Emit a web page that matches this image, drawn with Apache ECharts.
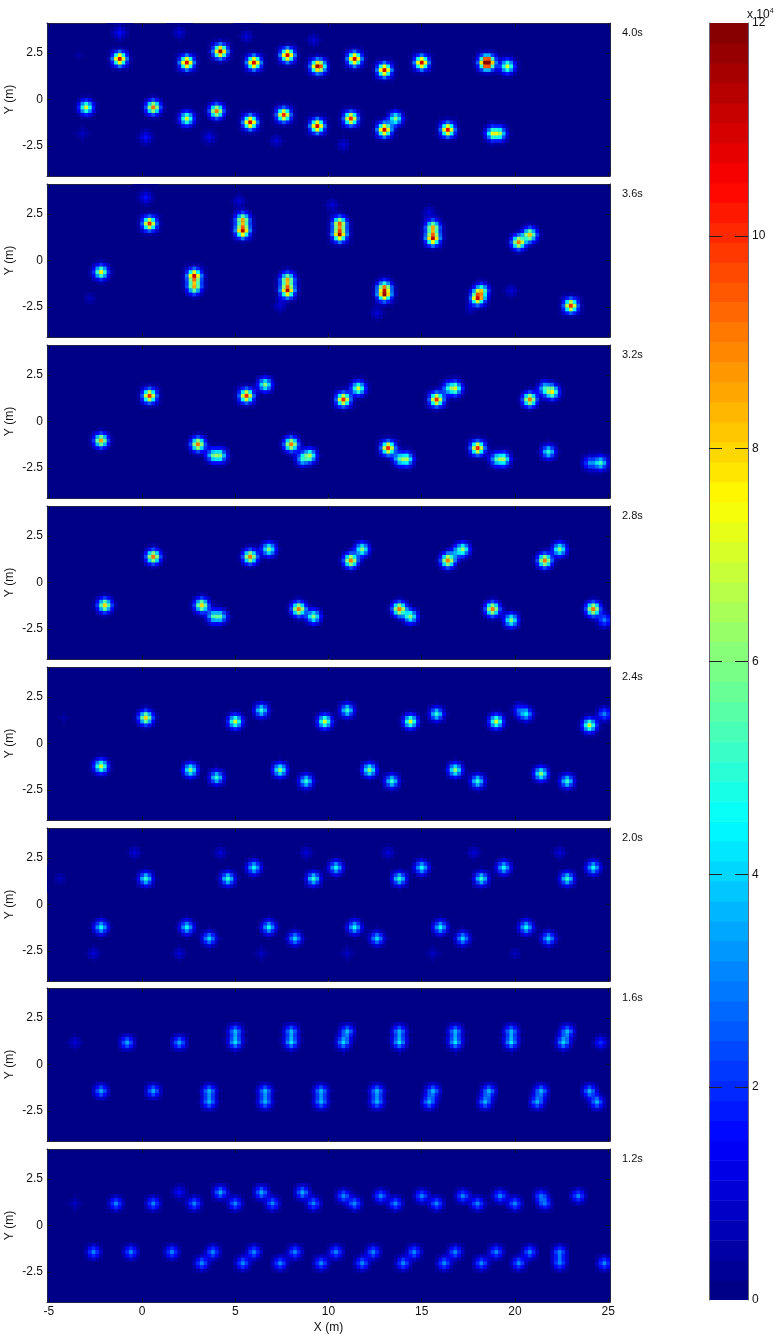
<!DOCTYPE html>
<html><head><meta charset="utf-8">
<script src="https://cdn.jsdelivr.net/npm/echarts@6/dist/echarts.min.js"></script>
<style>html,body{margin:0;padding:0;background:#fff}#c{width:780px;height:1340px}</style>
</head><body><div id="c"></div>
<script>
// Peaks: [x (m), y (m), peak amplitude (x 10^4)]
const t40 = [[-1.2,2.2,11],[2.4,2.0,11],[4.2,2.6,11.5],[6.0,2.0,11],[7.8,2.4,11],[9.4,1.8,9.5],[9.6,1.8,3],[11.4,2.2,11],[13.0,1.6,11],[15.0,2.0,11],[18.4,2.0,8],[18.6,2.0,9],[19.6,1.8,7],
 [-3.0,-0.4,7],[0.6,-0.4,9],[2.4,-1.0,7],[4.0,-0.6,9],[5.8,-1.2,11],[7.6,-0.8,10],[9.4,-1.4,11],[11.2,-1.0,10],[13.0,-1.6,11],[13.6,-1.0,6],[16.4,-1.6,10.5],[18.8,-1.8,6],[19.2,-1.8,5],
 [-1.2,3.6,1.5],[2.0,3.6,1],[5.6,3.4,1],[9.2,3.2,1],[-3.2,-1.8,0.8],[0.2,-2.0,1.5],[3.6,-2.0,1.2],[7.2,-2.2,1],[10.8,-2.4,1],[-3.4,2.4,0.4]];
const t36 = [[0.4,2.0,10],[5.4,2.2,8],[5.4,1.6,11],[10.6,2.0,9],[10.6,1.4,11],[15.6,1.8,8],[15.6,1.2,11],[20.2,1.0,9],[20.8,1.4,8],
 [-2.2,-0.6,7.5],[2.8,-0.8,10.5],[2.8,-1.4,8],[7.8,-1.0,8],[7.8,-1.6,11],[13.0,-1.4,6.5],[13.0,-1.8,10],[18.2,-1.6,6.5],[18.0,-2.0,10],[23.0,-2.4,10],
 [0.2,3.4,1.5],[5.2,3.2,1],[10.2,3.0,1],[-2.8,-2.0,0.7],[7.4,-2.4,1],[12.6,-2.8,1],[19.8,-1.6,1],[17.6,-2.6,0.6],[15.4,2.6,1]];
const t32 = [[0.4,1.4,10],[5.6,1.4,10],[6.6,2.0,6],[10.8,1.2,10],[11.6,1.8,7],[15.8,1.2,10],[16.8,1.8,6.5],[16.4,1.8,3],[20.8,1.2,9],[22.0,1.6,7],[21.6,1.8,4],
 [-2.2,-1.0,8.5],[3.0,-1.2,9],[3.8,-1.8,4.5],[4.2,-1.8,5],[8.0,-1.2,9],[9.0,-1.8,6],[8.6,-2.0,4],[13.2,-1.4,10],[13.8,-2.0,4],[14.2,-2.0,5.5],[18.0,-1.4,10],[19.0,-2.0,4],[19.4,-2.0,5.5],[21.8,-1.6,5],[24.6,-2.2,5],[24.0,-2.2,3]];
const t28 = [[0.6,1.4,9],[5.8,1.4,9],[6.8,1.8,6],[11.2,1.2,9],[11.8,1.8,6],[16.4,1.2,9],[17.2,1.8,6],[16.8,1.6,2],[21.6,1.2,9],[22.4,1.8,6],
 [-2.0,-1.2,8],[3.2,-1.2,8],[3.8,-1.8,4],[4.2,-1.8,4.5],[8.4,-1.4,9],[9.2,-1.8,6],[13.8,-1.4,9],[14.4,-1.8,6],[18.8,-1.4,9],[19.8,-2.0,6],[24.2,-1.4,9],[24.8,-2.0,3]];
const t24 = [[0.2,1.4,8],[5.0,1.2,7],[6.4,1.8,5],[9.8,1.2,7],[11.0,1.8,5],[14.4,1.2,7],[15.8,1.6,5],[19.0,1.2,7],[20.6,1.6,4],[20.2,1.8,2],[24.0,1.0,7],[24.8,1.6,3],
 [-2.2,-1.2,7],[2.6,-1.4,6],[4.0,-1.8,5],[7.4,-1.4,6],[8.8,-2.0,5],[12.2,-1.4,6],[13.4,-2.0,5],[16.8,-1.4,6],[18.0,-2.0,5],[21.4,-1.6,6],[22.8,-2.0,5],[-4.2,1.4,0.4]];
const t20 = [[0.2,1.4,5],[4.6,1.4,5],[6.0,2.0,4.5],[9.2,1.4,5],[10.4,2.0,4.5],[13.8,1.4,5],[15.0,2.0,4.5],[18.2,1.4,5],[19.4,2.0,4.5],[22.8,1.4,5],[24.2,2.0,4.5],
 [-2.2,-1.2,4.5],[2.4,-1.2,4.5],[3.6,-1.8,4],[6.8,-1.2,4.5],[8.2,-1.8,4],[11.4,-1.2,4.5],[12.6,-1.8,4],[16.0,-1.2,4.5],[17.2,-1.8,4],[20.6,-1.2,4.5],[21.8,-1.8,4],
 [-0.4,2.8,1],[4.2,2.8,1],[8.8,2.8,1],[13.2,2.8,1],[17.8,2.8,1],[22.4,2.8,1],[-4.4,1.4,0.6],[-2.6,-2.6,1],[2.0,-2.6,1],[6.4,-2.6,0.8],[11.0,-2.6,0.8],[15.6,-2.6,0.8],[20.0,-2.6,0.6]];
const t16 = [[-0.8,1.2,3.5],[2.0,1.2,3.5],[5.0,1.8,3.5],[5.0,1.2,4],[8.0,1.8,3.5],[8.0,1.2,4],[11.0,1.8,3.5],[10.8,1.2,4],[13.8,1.8,3.5],[13.8,1.2,4],[16.8,1.8,3.5],[16.8,1.2,4],[19.8,1.8,3.5],[19.8,1.2,4],[22.8,1.8,3.5],[22.6,1.2,4],[24.6,1.2,2],
 [-2.2,-1.4,3.5],[0.6,-1.4,3.5],[3.6,-1.4,3.5],[3.6,-2.0,3.5],[6.6,-1.4,3.5],[6.6,-2.0,3.5],[9.6,-1.4,3.5],[9.6,-2.0,3.5],[12.6,-1.4,3.5],[12.6,-2.0,3.5],[15.6,-1.4,3.5],[15.4,-2.0,3.5],[18.6,-1.4,3.5],[18.4,-2.0,3.5],[21.4,-1.4,3.5],[21.2,-2.0,3.5],[24.0,-1.4,3.5],[24.4,-2.0,3.5],[-3.6,1.2,1]];
const t12 = [[-3.6,1.2,0.8],[-1.4,1.2,3],[0.6,1.2,3],[2.0,1.8,1.5],[2.8,1.2,3],[4.2,1.8,3.5],[5.0,1.2,3],[6.4,1.8,3.5],[7.0,1.2,3],[8.6,1.8,3.5],[9.2,1.2,3],[10.8,1.6,3],[11.4,1.2,3],[12.8,1.6,3],[13.6,1.2,3],[15.0,1.6,3],[15.8,1.2,3],[17.2,1.6,3],[18.0,1.2,3],[19.2,1.6,3],[20.0,1.2,3],[21.4,1.6,2.5],[21.6,1.2,2.5],[23.4,1.6,3],
 [-2.6,-1.4,3],[-0.6,-1.4,3],[1.6,-1.4,3],[3.2,-2.0,3],[3.8,-1.4,3],[5.4,-2.0,3],[6.0,-1.4,3],[7.4,-2.0,3],[8.2,-1.4,3],[9.6,-2.0,3],[10.4,-1.4,3],[11.8,-2.0,3],[12.4,-1.4,3],[14.0,-2.0,3],[14.6,-1.4,3],[16.2,-2.0,3],[16.8,-1.4,3],[18.2,-2.0,3],[19.0,-1.4,3],[20.2,-2.0,3],[20.8,-1.4,3],[22.4,-1.4,3],[22.4,-2.0,3],[24.8,-2.0,3]];
const panelLabels = ['4.0s','3.6s','3.2s','2.8s','2.4s','2.0s','1.6s','1.2s'];
const panelPeaks = [t40,t36,t32,t28,t24,t20,t16,t12];
const panelTops = [23,184,345,506,667,828,988,1149];
const xTicks = [-5,0,5,10,15,20,25];
const yTicks = [-2.5,0,2.5];
const cbarTicks = [2,4,6,8,10];
// Spread of one reflector on the image grid, read from an isolated spot (offsets in cells)
const spot = [
 [0.01,0.02,0.03,0.05,0.03,0.02,0.01],
 [0.02,0.08,0.17,0.26,0.17,0.08,0.02],
 [0.03,0.17,0.44,0.68,0.44,0.17,0.03],
 [0.05,0.26,0.68,1.00,0.68,0.26,0.05],
 [0.03,0.17,0.44,0.68,0.44,0.17,0.03],
 [0.02,0.08,0.17,0.26,0.17,0.08,0.02],
 [0.01,0.02,0.03,0.05,0.03,0.02,0.01]];
const CELL = 0.2, LEVELS = 64, VMAX = 12;

function jet(t){
  const c = v => Math.round(255*Math.max(0,Math.min(1,v)));
  return `rgb(${c(1.5-Math.abs(4*t-3))},${c(1.5-Math.abs(4*t-2))},${c(1.5-Math.abs(4*t-1))})`;
}
const pieces = [];
for(let i=0;i<LEVELS;i++){
  pieces.push({gte:i*VMAX/LEVELS, lt:(i===LEVELS-1?1e9:(i+1)*VMAX/LEVELS), color:jet((i+0.5)/LEVELS)});
}
function panelCells(peaks){
  const m = new Map();
  peaks.forEach(([x,y,a])=>{
    const ix=Math.round(x/CELL), iy=Math.round(y/CELL);
    spot.forEach((row,r)=>row.forEach((w,c)=>{
      const k=(ix+c-3)+','+(iy+r-3);
      m.set(k,(m.get(k)||0)+a*w);
    }));
  });
  const out=[];
  m.forEach((v,k)=>{const [i,j]=k.split(',').map(Number); out.push([i*CELL,j*CELL,Math.min(v,11.9)]);});
  return out;
}
const FONT='"Liberation Sans",Arial,sans-serif';
const renderCell = (p,api)=>{
  const a=api.coord([api.value(0)-CELL/2,api.value(1)+CELL/2]);
  const b=api.coord([api.value(0)+CELL/2,api.value(1)-CELL/2]);
  return {type:'rect',shape:{x:a[0],y:a[1],width:b[0]-a[0]+0.4,height:b[1]-a[1]+0.4},style:{fill:api.visual('color')}};
};
const grids=[],xAxes=[],yAxes=[],series=[],titles=[];
const tickLine={show:true,inside:true,length:4,lineStyle:{color:'#101030',width:1}};
const boxLine={show:true,onZero:false,lineStyle:{color:'#20204a',width:1}};
const X0=-5.1,X1=25.1,Y0=-4.1,Y1=4.1;
panelPeaks.forEach((peaks,i)=>{
  const last=i===panelPeaks.length-1;
  grids.push({left:47,top:panelTops[i],width:563,height:153,outerBoundsMode:'none',containLabel:false,show:true,backgroundColor:jet(0.5/LEVELS),borderWidth:0});
  const base=xAxes.length;
  xAxes.push({gridIndex:i,type:'value',min:X0,max:X1,position:'bottom',splitLine:{show:false},axisLine:boxLine,axisTick:{...tickLine,customValues:xTicks},
    axisLabel:{show:last,color:'#111',fontFamily:FONT,fontSize:12,margin:4,hideOverlap:false,customValues:xTicks},
    name:last?'X (m)':'',nameLocation:'middle',nameGap:20,nameTextStyle:{color:'#111',fontFamily:FONT,fontSize:12}});
  xAxes.push({gridIndex:i,type:'value',min:X0,max:X1,position:'top',splitLine:{show:false},axisLine:boxLine,axisTick:{...tickLine,customValues:xTicks},axisLabel:{show:false}});
  yAxes.push({gridIndex:i,type:'value',min:Y0,max:Y1,position:'left',splitLine:{show:false},axisLine:boxLine,
    axisTick:{...tickLine,customValues:yTicks},
    axisLabel:{color:'#111',fontFamily:FONT,fontSize:12,margin:4,customValues:yTicks},
    name:'Y (m)',nameLocation:'middle',nameGap:31,nameRotate:90,nameMoveOverlap:false,nameTextStyle:{color:'#111',fontFamily:FONT,fontSize:12}});
  yAxes.push({gridIndex:i,type:'value',min:Y0,max:Y1,position:'right',splitLine:{show:false},axisLine:boxLine,
    axisTick:{...tickLine,customValues:yTicks},axisLabel:{show:false}});
  series.push({type:'custom',coordinateSystem:'cartesian2d',xAxisIndex:base,yAxisIndex:base,clip:true,silent:true,
    renderItem:renderCell,encode:{x:0,y:1},data:panelCells(peaks),animation:false});
  titles.push({text:panelLabels[i],left:622,top:panelTops[i]+4,padding:0,textStyle:{color:'#111',fontFamily:FONT,fontSize:11,fontWeight:'normal'}});
});
// colour bar
const gi=panelPeaks.length;
grids.push({left:709,top:23,width:39,height:1277,outerBoundsMode:'none',containLabel:false,show:false});
const cx=xAxes.length;
xAxes.push({gridIndex:gi,type:'value',min:0,max:1,show:false});
const barLine={show:true,onZero:false,lineStyle:{color:'#667',width:1}};
const barTick={show:true,inside:true,length:13,customValues:cbarTicks,lineStyle:{color:'#222',width:1}};
yAxes.push({gridIndex:gi,type:'value',min:0,max:12,interval:2,position:'right',splitLine:{show:false},z:5,
  axisLine:barLine,axisTick:barTick,
  axisLabel:{color:'#111',fontFamily:FONT,fontSize:12,margin:4,showMinLabel:true,showMaxLabel:true}});
yAxes.push({gridIndex:gi,type:'value',min:0,max:12,interval:2,position:'left',splitLine:{show:false},z:5,
  axisLine:barLine,axisTick:barTick,axisLabel:{show:false}});
const barData=[];
for(let i=0;i<LEVELS;i++) barData.push([0,(i+0.5)*VMAX/LEVELS,(i+0.5)*VMAX/LEVELS]);
series.push({type:'custom',coordinateSystem:'cartesian2d',xAxisIndex:cx,yAxisIndex:cx,clip:true,silent:true,encode:{x:0,y:1},data:barData,animation:false,z:1,
  renderItem:(p,api)=>{
    const h=VMAX/LEVELS;
    const a=api.coord([0,api.value(1)+h/2]),b=api.coord([1,api.value(1)-h/2]);
    return {type:'rect',shape:{x:a[0],y:a[1],width:b[0]-a[0],height:b[1]-a[1]+0.5},style:{fill:api.visual('color')}};
  }});
titles.push({text:'x 10{s|4}',left:747,top:8,padding:0,textStyle:{color:'#111',fontFamily:FONT,fontSize:12,fontWeight:'normal',rich:{s:{fontSize:7,verticalAlign:'top',fontFamily:FONT,color:'#111',padding:[0,0,6,0]}}}});

const chart=echarts.init(document.getElementById('c'),null,{renderer:'canvas'});
chart.setOption({animation:false,backgroundColor:'#fff',title:titles,grid:grids,xAxis:xAxes,yAxis:yAxes,
  visualMap:{type:'piecewise',show:false,dimension:2,seriesIndex:series.map((s,i)=>i),pieces:pieces},series:series});
</script></body></html>
